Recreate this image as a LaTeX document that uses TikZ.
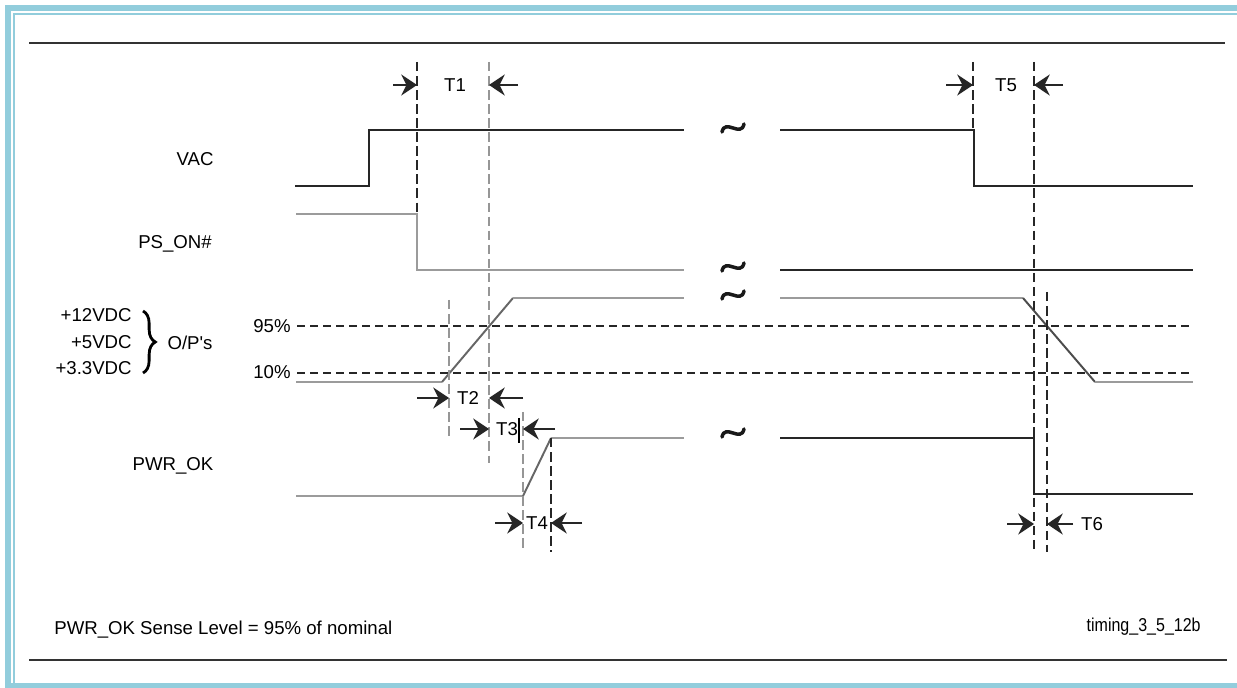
\documentclass[tikz,border=0pt]{standalone}
\usepackage{fontspec}
\setmainfont{Liberation Sans}
\definecolor{framecyan}{RGB}{146,205,220}
\definecolor{siggray}{RGB}{155,155,155}
\definecolor{markgray}{RGB}{150,150,150}
\usepackage{tikz}
\usetikzlibrary{arrows.meta, decorations.pathreplacing}

\begin{document}
\begin{tikzpicture}[x=0.02cm, y=-0.02cm,
  lbl/.style={font=\fontsize{10.6}{13}\selectfont, inner sep=0pt},
  sig/.style={line width=1.1pt, black!85},
  siglt/.style={line width=1.1pt, siggray},
  level/.style={line width=1pt, black!85, dash pattern=on 4.6pt off 2.8pt},
  tmark/.style={line width=1pt, black!85, dash pattern=on 5.4pt off 2.6pt},
  tmarklt/.style={tmark, markgray},
  meas/.style={-{Stealth[length=9pt, width=12pt, inset=3pt]}, line width=1pt, black!85},
  brkline/.style={line width=2pt, black!90, line cap=round},
]
\useasboundingbox (0,0) rectangle (1237,688);
\fill[white] (0,0) rectangle (1237,688);

% Frame
\fill[framecyan] (5,5) rectangle (1237,11);
\fill[framecyan] (5,5) rectangle (11,688);
\fill[framecyan] (13,13) rectangle (1237,15);
\fill[framecyan] (13,13) rectangle (15,688);
\fill[framecyan] (5,683) rectangle (1237,688);
\draw[line width=1.1pt, black!80] (29,43) -- (1225,43);
\draw[line width=1.1pt, black!80] (29,660) -- (1227,660);

% Signal names
\node[lbl] (vac) at (195,159) {VAC};
\node[lbl] (pson) at (175,244) {PS\_ON\#};
\node[lbl, anchor=east] (v12) at (132,315) {+12VDC};
\node[lbl, anchor=east] (v5) at (132,342) {+5VDC};
\node[lbl, anchor=east] (v33) at (132,368) {+3.3VDC};
\draw[decorate, decoration={brace, amplitude=7pt}, line width=1.6pt] (143,311) -- (143,373);
\node[lbl] (ops) at (190,343) {O/P\textquotesingle s};
\node[lbl] (pwrok) at (173,466) {PWR\_OK};
\node[lbl, anchor=east] (p95) at (291,326) {95\%};
\node[lbl, anchor=east] (p10) at (291,372) {10\%};

% Levels
\draw[level] (297,326) -- (1193,326);
\draw[level] (297,373) -- (1193,373);

% VAC
\draw[sig] (295,186) -- (369,186) -- (369,130) -- (684,130);
\draw[sig] (780,130) -- (974,130) -- (974,186) -- (1193,186);
% PS_ON#
\draw[siglt] (296,214) -- (417,214) -- (417,270) -- (684,270);
\draw[sig] (780,270) -- (1193,270);
% O/P's
\draw[siglt] (296,382) -- (442,382);
\draw[line width=1.1pt, black!60] (442,382) -- (513,298);
\draw[siglt] (513,298) -- (684,298);
\draw[siglt] (780,298) -- (1023,298);
\draw[line width=1.1pt, black!70] (1023,298) -- (1095,382);
\draw[siglt] (1095,382) -- (1193,382);
% PWR_OK
\draw[siglt] (296,496) -- (523,496);
\draw[line width=1.1pt, black!60] (523,496) -- (551,438);
\draw[siglt] (551,438) -- (684,438);
\draw[sig] (780,438) -- (1034,438) -- (1034,494) -- (1193,494);

% Breaks
\foreach \y in {128, 267, 295, 433}
  \draw[brkline] (722,\y+4) .. controls (725,\y-10) and (741,\y+10) .. (744,\y-4);

% Timing marks
\draw[tmark] (417,62) -- (417,214);
\draw[tmarklt] (489,62) -- (489,463);
\draw[tmarklt] (449,300) -- (449,438);
\draw[tmarklt] (523,412) -- (523,552);
\draw[tmark] (551,438) -- (551,552);
\draw[line width=0.8pt] (519,418) -- (519,443);
\draw[tmark] (973,62) -- (973,130);
\draw[tmark] (1034,62) -- (1034,552);
\draw[tmark] (1047,292) -- (1047,552);

% T1
\draw[meas] (393,85) -- (417,85);
\draw[meas] (518,85) -- (489,85);
\node[lbl] (t1) at (455,85) {T1};
% T2
\draw[meas] (417,398) -- (449,398);
\draw[meas] (523,398) -- (489,398);
\node[lbl] (t2) at (468,398) {T2};
% T3
\draw[meas] (460,429) -- (489,429);
\draw[meas] (555,429) -- (523,429);
\node[lbl] (t3) at (507,429) {T3};
% T4
\draw[meas] (495,523) -- (523,523);
\draw[meas] (582,523) -- (551,523);
\node[lbl] (t4) at (537,523) {T4};
% T5
\draw[meas] (946,85) -- (973,85);
\draw[meas] (1063,85) -- (1034,85);
\node[lbl] (t5) at (1006,85) {T5};
% T6
\draw[meas] (1007,524) -- (1034,524);
\draw[meas] (1073,524) -- (1047,524);
\node[lbl] (t6) at (1092,524) {T6};

% Notes
\node[lbl, anchor=west] (note) at (54,630) {PWR\_OK Sense Level = 95\% of nominal};
\node[lbl, anchor=east] (figid) at (1201,627) {\scalebox{0.86}[1]{timing\_3\_5\_12b}};
\end{tikzpicture}
\end{document}
